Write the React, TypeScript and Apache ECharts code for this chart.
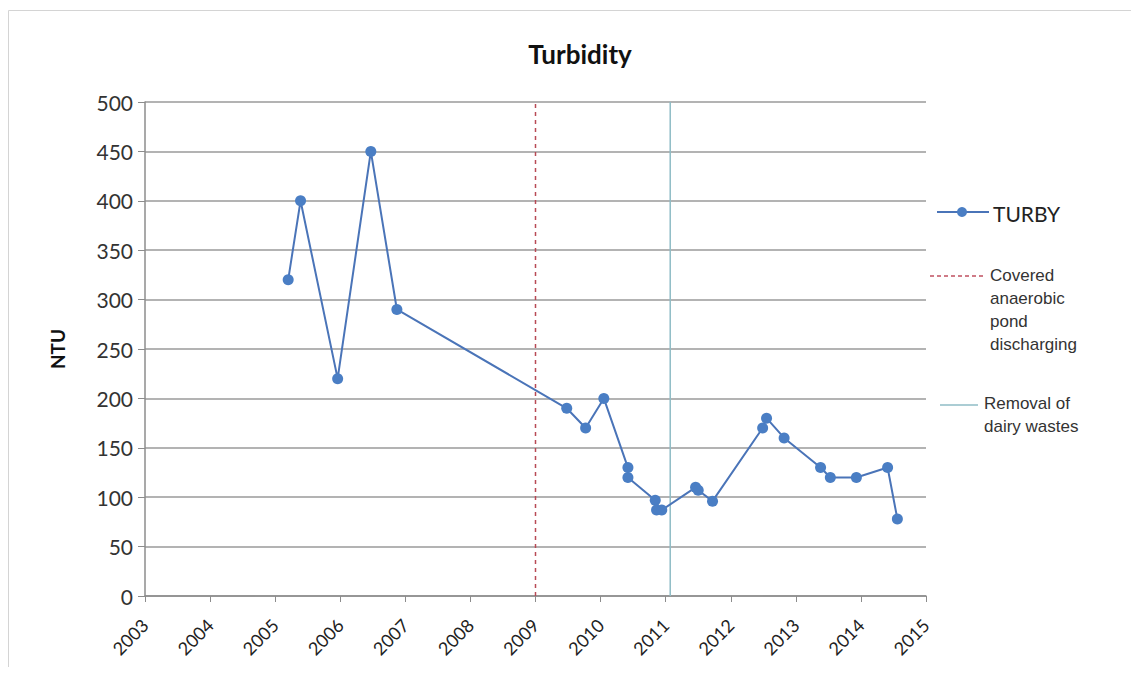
import React, { useEffect, useRef } from "react";
import * as echarts from "echarts";

const years: number[] = [
  2005.2, 2005.39, 2005.96, 2006.47, 2006.87, 2009.48, 2009.77, 2010.05, 2010.42, 2010.42,
  2010.84, 2010.86, 2010.94, 2011.46, 2011.5, 2011.72, 2012.49, 2012.55, 2012.82, 2013.38,
  2013.53, 2013.93, 2014.41, 2014.56,
];
const turby: number[] = [
  320, 400, 220, 450, 290, 190, 170, 200, 130, 120,
  97, 87, 87, 110, 107, 96, 170, 180, 160, 130,
  120, 120, 130, 78,
];
const pondYear = 2009.0;
const dairyYear = 2011.07;
const yTicks = { min: 0, max: 500, interval: 50 };
const xTicks = { min: 2003, max: 2015, interval: 1 };

export default function App() {
  const ref = useRef<HTMLDivElement>(null);
  useEffect(() => {
    if (!ref.current) return;
    const chart = echarts.init(ref.current, null, { renderer: "svg" });
    const seriesData = years.map((y, i) => [y, turby[i]]);
    chart.setOption({
      animation: false,
      backgroundColor: "#ffffff",
      title: {
        text: "Turbidity",
        left: 575,
        top: 36,
        textAlign: "center",
        textStyle: { fontFamily: "Lato", fontWeight: "bold", fontSize: 26, color: "#111" },
      },
      grid: { left: 145, right: 213, top: 102, bottom: 79, outerBoundsMode: "none" },
      xAxis: {
        type: "value",
        min: xTicks.min,
        max: xTicks.max,
        interval: xTicks.interval,
        splitLine: { show: false },
        axisLine: { show: true, lineStyle: { color: "#8c8c8c", width: 1.5 } },
        axisTick: { show: true, length: 6, lineStyle: { color: "#8c8c8c" } },
        axisLabel: {
          rotate: 45,
          fontFamily: "Lato",
          fontSize: 18,
          color: "#222",
          margin: 26,
          formatter: (v: number) => String(v),
        },
      },
      yAxis: {
        type: "value",
        min: yTicks.min,
        max: yTicks.max,
        interval: yTicks.interval,
        name: "NTU",
        nameLocation: "middle",
        nameGap: 78,
        nameTextStyle: { fontFamily: "Lato", fontWeight: "bold", fontSize: 19, color: "#111" },
        splitLine: { show: true, lineStyle: { color: "#9a9a9a", width: 1.5 } },
        axisLine: { show: true, lineStyle: { color: "#8c8c8c", width: 1.5 } },
        axisTick: { show: true, inside: false, length: 7, lineStyle: { color: "#8c8c8c" } },
        axisLabel: { fontFamily: "Lato", fontSize: 21, color: "#333", margin: 12 },
      },
      series: [
        {
          name: "TURBY",
          type: "line",
          data: seriesData,
          symbol: "circle",
          symbolSize: 11,
          lineStyle: { color: "#4a74b8", width: 2 },
          itemStyle: { color: "#4a7ec4" },
          z: 5,
        },
        {
          name: "Covered anaerobic pond discharging",
          type: "line",
          data: [
            [pondYear, yTicks.min],
            [pondYear, yTicks.max],
          ],
          symbol: "none",
          lineStyle: { color: "#b84a55", width: 1.5, type: [4, 4] },
          z: 3,
        },
        {
          name: "Removal of dairy wastes",
          type: "line",
          data: [
            [dairyYear, yTicks.min],
            [dairyYear, yTicks.max],
          ],
          symbol: "none",
          lineStyle: { color: "#8fbcc6", width: 1.5 },
          z: 3,
        },
      ],
      graphic: [
        {
          type: "rect",
          shape: { x: 8.5, y: 10.5, width: 1124, height: 658 },
          style: { fill: "none", stroke: "#d4d4d4", lineWidth: 1 },
          silent: true,
        },
        {
          type: "line",
          shape: { x1: 937, y1: 212, x2: 989, y2: 212 },
          style: { stroke: "#4a74b8", lineWidth: 2 },
        },
        {
          type: "circle",
          shape: { cx: 962, cy: 212, r: 5 },
          style: { fill: "#4a7ec4" },
        },
        {
          type: "text",
          x: 993,
          y: 213,
          style: {
            text: "TURBY",
            fontFamily: "Lato",
            fontSize: 21,
            fill: "#222",
            verticalAlign: "middle",
          },
        },
        {
          type: "line",
          shape: { x1: 930, y1: 276, x2: 983, y2: 276 },
          style: { stroke: "#c05060", lineWidth: 1.5, lineDash: [4, 3] },
        },
        {
          type: "text",
          x: 990,
          y: 264,
          style: {
            text: "Covered\nanaerobic\npond\ndischarging",
            fontFamily: "Liberation Sans",
            fontSize: 17,
            lineHeight: 23,
            fill: "#333",
          },
        },
        {
          type: "line",
          shape: { x1: 940, y1: 405, x2: 978, y2: 405 },
          style: { stroke: "#8fbcc6", lineWidth: 1.5 },
        },
        {
          type: "text",
          x: 984,
          y: 392,
          style: {
            text: "Removal of\ndairy wastes",
            fontFamily: "Liberation Sans",
            fontSize: 17,
            lineHeight: 23,
            fill: "#333",
          },
        },
      ],
    });
    return () => chart.dispose();
  }, []);
  return <div ref={ref} style={{ width: 1139, height: 675, margin: -8 }} />;
}
